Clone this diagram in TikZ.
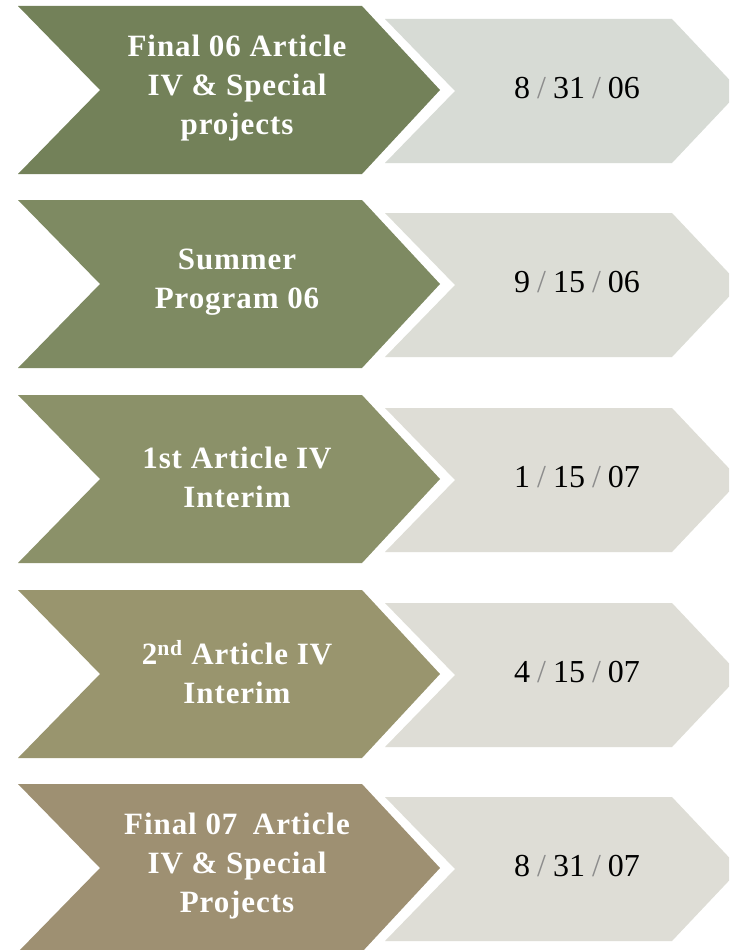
\documentclass[tikz,border=0pt]{standalone}
\usepackage{fontspec}
\setmainfont{Liberation Serif}
\definecolor{gA}{RGB}{115,129,89}
\definecolor{gB}{RGB}{126,138,98}
\definecolor{gC}{RGB}{139,145,105}
\definecolor{gD}{RGB}{153,149,110}
\definecolor{gE}{RGB}{158,144,114}
\definecolor{grA}{RGB}{215,219,213}
\definecolor{grB}{RGB}{220,221,214}
\definecolor{grC}{RGB}{222,221,214}
\definecolor{slashc}{RGB}{140,140,140}
\tikzset{
  lbl/.style={text=white,align=center,font=\fontsize{31}{39}\selectfont\bfseries\addfontfeature{LetterSpace=3},inner sep=0pt},
  datelbl/.style={text=black,font=\fontsize{32}{36}\selectfont,inner sep=0pt},
}
\newcommand{\dsl}{\hspace{7pt}{\color{slashc}/}\hspace{7pt}}
\newcommand{\greenchev}[2]{%
  \fill[#1] (18,#2) -- (362,#2) -- (440,#2+84) -- (362,#2+168) -- (18,#2+168) -- (100,#2+84) -- cycle;}
\newcommand{\greychev}[2]{%
  \fill[#1] (385,#2+13) -- (672,#2+13) -- (740,#2+85) -- (672,#2+157) -- (385,#2+157) -- (455,#2+85) -- cycle;}
\begin{document}
\begin{tikzpicture}[x=1pt,y=-1pt]
\useasboundingbox (0,0) rectangle (729,950);
\clip (0,0) rectangle (729,950);
\fill[white] (0,0) rectangle (729,950);
% row 1
\greenchev{gA}{6}
\greychev{grA}{6}
\node[lbl] (t1) at (237,88) {Final 06 Article\\IV \& Special\\projects};
\node[datelbl] (d1) at (577,88) {8\dsl31\dsl06};
% row 2
\greenchev{gB}{200}
\greychev{grB}{200}
\node[lbl] (t2) at (237,282) {Summer\\Program 06};
\node[datelbl] (d2) at (577,282) {9\dsl15\dsl06};
% row 3
\greenchev{gC}{395}
\greychev{grC}{395}
\node[lbl] (t3) at (237,477) {1st Article IV\\Interim};
\node[datelbl] (d3) at (577,477) {1\dsl15\dsl07};
% row 4
\greenchev{gD}{590}
\greychev{grC}{590}
\node[lbl] (t4) at (237,672) {2\textsuperscript{nd} Article IV\\Interim};
\node[datelbl] (d4) at (577,672) {4\dsl15\dsl07};
% row 5
\greenchev{gE}{784}
\greychev{grC}{784}
\node[lbl] (t5) at (237,866) {Final 07\enspace Article\\IV \& Special\\Projects};
\node[datelbl] (d5) at (577,866) {8\dsl31\dsl07};
\end{tikzpicture}
\end{document}
